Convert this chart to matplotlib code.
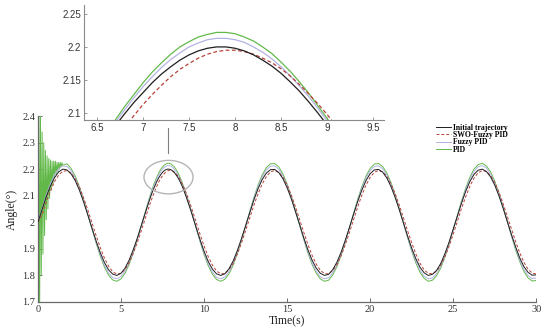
import numpy as np
import matplotlib
matplotlib.use("Agg")
import matplotlib.pyplot as plt
from matplotlib.patches import Ellipse

# time grid (s): 0.25 s steps, 0.1 s steps inside the zoomed window
t = np.concatenate([np.arange(0, 6.01, 0.25), [6.2],
                    np.round(np.arange(6.4, 9.61, 0.1), 1), [9.8],
                    np.arange(10, 30.01, 0.25)])

initial = [2.000, 2.049, 2.096, 2.136, 2.168, 2.190, 2.200, 2.197, 2.182, 2.156, 2.120, 2.076, 2.028,
           1.978, 1.930, 1.886, 1.849, 1.821, 1.805, 1.800, 1.808, 1.828, 1.859, 1.899, 1.944,
           1.983,
           2.023, 2.043, 2.062, 2.081, 2.099, 2.116, 2.131, 2.146, 2.159, 2.170, 2.180, 2.188, 2.194, 2.198,
           2.200, 2.200, 2.198, 2.194, 2.188, 2.180, 2.171, 2.160, 2.147, 2.133, 2.117, 2.100, 2.082, 2.064,
           2.045, 2.025, 2.005, 1.985, 1.965,
           1.927,
           1.891, 1.853, 1.824, 1.806, 1.800, 1.806, 1.825, 1.854, 1.893, 1.938, 1.987, 2.037,
           2.084, 2.126, 2.161, 2.185, 2.198, 2.199, 2.187, 2.164, 2.130, 2.089, 2.041, 1.992,
           1.942, 1.897, 1.858, 1.828, 1.808, 1.800, 1.804, 1.822, 1.850, 1.887, 1.932, 1.980,
           2.030, 2.078, 2.121, 2.157, 2.183, 2.197, 2.199, 2.189, 2.167, 2.135, 2.094, 2.048,
           1.998, 1.949, 1.903, 1.863, 1.831, 1.810, 1.800, 1.804, 1.819, 1.845, 1.882, 1.925,
           1.974, 2.023, 2.072, 2.116, 2.153, 2.180, 2.196, 2.200, 2.191, 2.171, 2.140, 2.100,
           2.054, 2.005, 1.955, 1.909, 1.867, 1.834, 1.812, 1.801, 1.802]

swo_fuzzy = [2.000, 2.029, 2.076, 2.118, 2.153, 2.178, 2.192, 2.194, 2.185, 2.163, 2.132, 2.092, 2.047,
             1.998, 1.950, 1.905, 1.866, 1.835, 1.814, 1.805, 1.808, 1.823, 1.849, 1.885, 1.927,
             1.964,
             2.003, 2.023, 2.042, 2.061, 2.079, 2.096, 2.113, 2.128, 2.142, 2.155, 2.166, 2.175, 2.183, 2.189,
             2.193, 2.195, 2.195, 2.193, 2.189, 2.183, 2.176, 2.167, 2.156, 2.143, 2.129, 2.114, 2.098, 2.080,
             2.062, 2.044, 2.024, 2.005, 1.985,
             1.947,
             1.911, 1.871, 1.839, 1.817, 1.806, 1.807, 1.821, 1.845, 1.880, 1.921, 1.968, 2.016,
             2.064, 2.107, 2.144, 2.172, 2.190, 2.195, 2.188, 2.170, 2.141, 2.103, 2.059, 2.011,
             1.963, 1.917, 1.876, 1.843, 1.819, 1.807, 1.806, 1.818, 1.841, 1.874, 1.915, 1.961,
             2.010, 2.058, 2.102, 2.140, 2.169, 2.188, 2.195, 2.190, 2.173, 2.145, 2.109, 2.065,
             2.018, 1.969, 1.923, 1.881, 1.846, 1.821, 1.808, 1.806, 1.816, 1.838, 1.870, 1.909,
             1.955, 2.003, 2.052, 2.096, 2.135, 2.166, 2.186, 2.195, 2.191, 2.176, 2.150, 2.114,
             2.071, 2.024, 1.976, 1.929, 1.886, 1.850, 1.824, 1.809, 1.805]

fuzzy_pid = [2.000, 2.053, 2.102, 2.145, 2.179, 2.202, 2.212, 2.210, 2.194, 2.166, 2.127, 2.081, 2.030,
             1.977, 1.925, 1.878, 1.839, 1.809, 1.792, 1.787, 1.796, 1.817, 1.850, 1.892, 1.940,
             1.982,
             2.025, 2.046, 2.066, 2.086, 2.105, 2.123, 2.140, 2.155, 2.169, 2.181, 2.191, 2.200, 2.206, 2.211,
             2.213, 2.213, 2.211, 2.207, 2.200, 2.192, 2.182, 2.170, 2.156, 2.141, 2.125, 2.107, 2.088, 2.068,
             2.048, 2.027, 2.005, 1.984, 1.963,
             1.922,
             1.884, 1.844, 1.813, 1.793, 1.787, 1.794, 1.814, 1.845, 1.886, 1.934, 1.986, 2.039,
             2.090, 2.135, 2.171, 2.197, 2.211, 2.212, 2.199, 2.174, 2.139, 2.094, 2.044, 1.991,
             1.939, 1.890, 1.848, 1.816, 1.795, 1.787, 1.791, 1.810, 1.840, 1.880, 1.927, 1.979,
             2.032, 2.083, 2.129, 2.167, 2.194, 2.210, 2.212, 2.202, 2.178, 2.144, 2.100, 2.051,
             1.998, 1.945, 1.896, 1.854, 1.820, 1.797, 1.787, 1.791, 1.807, 1.835, 1.874, 1.920,
             1.972, 2.025, 2.076, 2.123, 2.162, 2.191, 2.209, 2.213, 2.204, 2.182, 2.149, 2.107,
             2.058, 2.005, 1.952, 1.903, 1.859, 1.823, 1.800, 1.788, 1.790]

# PID: fast start-up oscillation, then values on the common grid from t = 2 s
pid_t_start = [0.00, 0.05, 0.10, 0.15, 0.20, 0.25, 0.30, 0.35, 0.40, 0.45, 0.50,
               0.55, 0.60, 0.65, 0.70, 0.75, 0.80, 0.85, 0.90, 0.95, 1.00,
               1.05, 1.10, 1.15, 1.20, 1.25, 1.30, 1.35, 1.40, 1.45, 1.50, 1.75]
pid_start = [2.00, 2.45, 1.65, 2.42, 1.80, 2.34, 1.88, 2.30, 1.95, 2.27, 2.01,
             2.25, 2.05, 2.24, 2.09, 2.235, 2.12, 2.23, 2.14, 2.23, 2.17,
             2.23, 2.18, 2.225, 2.19, 2.225, 2.20, 2.225, 2.21, 2.224, 2.215, 2.220]
pid = [2.202, 2.173, 2.133, 2.085, 2.031, 1.976, 1.922, 1.873, 1.832, 1.801, 1.783, 1.778, 1.787,
       1.809, 1.843, 1.888, 1.938,
       1.982,
       2.026, 2.048, 2.069, 2.090, 2.110, 2.128, 2.146, 2.162, 2.176, 2.189, 2.200, 2.208, 2.215, 2.219,
       2.222, 2.222, 2.220, 2.215, 2.209, 2.200, 2.190, 2.177, 2.163, 2.147, 2.130, 2.111, 2.092, 2.071,
       2.050, 2.028, 2.006, 1.983, 1.961,
       1.919,
       1.879, 1.837, 1.805, 1.785, 1.778, 1.785, 1.806, 1.838, 1.881, 1.931, 1.985, 2.041,
       2.093, 2.140, 2.178, 2.206, 2.220, 2.221, 2.208, 2.182, 2.144, 2.098, 2.046, 1.991,
       1.936, 1.885, 1.842, 1.809, 1.787, 1.778, 1.782, 1.802, 1.833, 1.875, 1.924, 1.978,
       2.033, 2.087, 2.134, 2.174, 2.203, 2.219, 2.221, 2.210, 2.186, 2.150, 2.105, 2.053,
       1.998, 1.943, 1.892, 1.847, 1.812, 1.789, 1.778, 1.782, 1.799, 1.828, 1.869, 1.917,
       1.971, 2.026, 2.080, 2.128, 2.169, 2.200, 2.217, 2.222, 2.212, 2.190, 2.155, 2.111,
       2.060, 2.005, 1.950, 1.898, 1.853, 1.816, 1.791, 1.779, 1.781]

t_pid = np.concatenate([pid_t_start, t[t >= 2.0]])
y_pid = np.concatenate([pid_start, pid])

labels = ["Initial trajectory", "SWO-Fuzzy PID", "Fuzzy PID", "PID"]
colors = ["#1e1e1e", "#b8423a", "#b3b3e3", "#62b94a"]

serif = "Liberation Serif"
sans = "Liberation Sans"

fig = plt.figure(figsize=(5.5, 3.32), dpi=100)
ax = fig.add_axes([0.069, 0.0904, 0.906, 0.5602])

def draw(a, lw):
    h4, = a.plot(t_pid, y_pid, color=colors[3], lw=lw, zorder=2)
    h3, = a.plot(t, fuzzy_pid, color=colors[2], lw=lw, zorder=3)
    h2, = a.plot(t, swo_fuzzy, color=colors[1], lw=lw, ls=(0, (3, 2)), zorder=4)
    h1, = a.plot(t, initial, color=colors[0], lw=lw, zorder=5)
    return [h1, h2, h3, h4]

handles = draw(ax, 0.7)
ax.set_xlim(0, 30)
ax.set_ylim(1.7, 2.4)
ax.set_xticks([0, 5, 10, 15, 20, 25, 30])
ax.set_yticks([1.7, 1.8, 1.9, 2.0, 2.1, 2.2, 2.3, 2.4])
ax.set_yticklabels(["1.7", "1.8", "1.9", "2", "2.1", "2.2", "2.3", "2.4"])
for s in ["top", "right"]:
    ax.spines[s].set_visible(False)
for s in ["left", "bottom"]:
    ax.spines[s].set_color("#6a6a6a")
    ax.spines[s].set_linewidth(0.9)
ax.tick_params(direction="in", length=3, width=0.7, color="#6a6a6a",
               labelsize=7.5, labelcolor="#333333", pad=2)
for lab in ax.get_xticklabels() + ax.get_yticklabels():
    lab.set_fontfamily(serif)
ax.set_xlabel("Time(s)", fontsize=8.5, family=serif, color="#222222", labelpad=1)
ax.set_ylabel("Angle(°)", fontsize=8.5, family=serif, color="#222222", labelpad=3)

# zoom marker
ax.add_patch(Ellipse((7.86, 2.17), 2.95, 0.126, fill=False, edgecolor="#b5b5b5", lw=1.0, zorder=6))
ax.plot([7.83, 7.83], [2.259, 2.354], color="#808080", lw=0.8, zorder=6)

leg = ax.legend(handles, labels, loc="upper left", bbox_to_anchor=(432 / 550, 1 - 120 / 332),
                bbox_transform=fig.transFigure, frameon=False, handlelength=2.0,
                handletextpad=0.2, labelspacing=-0.1, borderpad=0,
                prop={"family": serif, "size": 5.5, "weight": "bold"})

# inset
axi = fig.add_axes([0.153, 0.639, 0.545, 0.346])
draw(axi, 0.9)
axi.set_xlim(6.357, 9.62)
axi.set_ylim(2.0894, 2.2636)
axi.set_xticks([6.5, 7, 7.5, 8, 8.5, 9, 9.5])
axi.set_xticklabels(["6.5", "7", "7.5", "8", "8.5", "9", "9.5"])
axi.set_yticks([2.1, 2.15, 2.2, 2.25])
axi.set_yticklabels(["2.1", "2.15", "2.2", "2.25"])
for s in ["top", "right"]:
    axi.spines[s].set_visible(False)
for s in ["left", "bottom"]:
    axi.spines[s].set_color("#8a8a8a")
    axi.spines[s].set_linewidth(0.8)
axi.tick_params(direction="in", length=2.5, width=0.6, color="#8a8a8a",
                labelsize=7, labelcolor="#333333", pad=2)
for lab in axi.get_xticklabels() + axi.get_yticklabels():
    lab.set_fontfamily(sans)

fig.savefig("out.png", dpi=100)
